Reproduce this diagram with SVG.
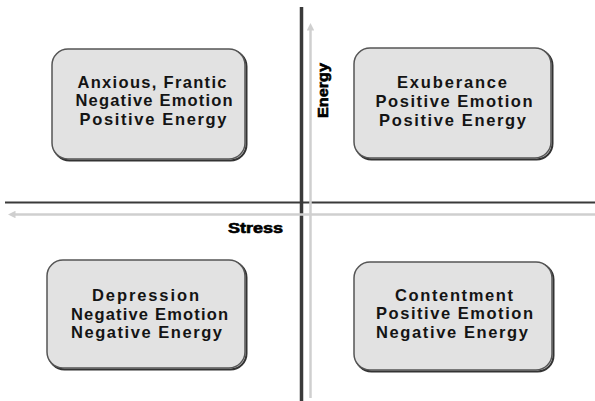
<svg xmlns="http://www.w3.org/2000/svg" width="595" height="401" viewBox="0 0 595 401">
<defs>
<style>
.box{fill:#e2e2e2;stroke:#555;stroke-width:1.5}
.shadow{fill:none;stroke:#333;stroke-width:2}
.lbl{font-family:"Liberation Sans",Arial,sans-serif;font-size:16.5px;font-weight:bold;fill:#141414;text-anchor:middle}
.axis{font-family:"Liberation Sans",Arial,sans-serif;font-size:14px;font-weight:900;fill:#000;text-anchor:middle;stroke:#000;stroke-width:0.6}
.dark{stroke:#3a3a3a;fill:none}
.light{stroke:#cfcfcf;fill:none;stroke-width:2.5}
</style>
<marker id="ah" viewBox="0 0 10 10" refX="2" refY="5" markerWidth="3" markerHeight="3" orient="auto-start-reverse">
<path d="M0,0 L10,5 L0,10 z" fill="#cfcfcf"/>
</marker>
</defs>
<rect width="595" height="401" fill="#fff"/>
<g id="connectors">
<line class="dark" x1="301.5" y1="7" x2="301.5" y2="401" stroke-width="3.5"/>
<line class="dark" x1="5" y1="202.5" x2="595" y2="202.5" stroke-width="2"/>
<line class="light" x1="310.5" y1="398" x2="310.5" y2="29" marker-end="url(#ah)"/>
<line class="light" x1="595" y1="214.5" x2="14" y2="214.5" marker-end="url(#ah)"/>
</g>
<g id="axis-labels">
<text class="axis" x="255.5" y="233" textLength="55" lengthAdjust="spacingAndGlyphs">Stress</text>
<text class="axis" transform="translate(327.5,90.5) rotate(-90)" textLength="55" lengthAdjust="spacingAndGlyphs">Energy</text>
</g>
<g id="node-anxious">
<rect class="shadow" x="53.5" y="50.5" width="193" height="110" rx="16"/>
<rect class="box" x="52" y="49" width="193" height="110" rx="16"/>
<text class="lbl" x="152" y="87.5" textLength="149" lengthAdjust="spacing">Anxious, Frantic</text>
<text class="lbl" x="154" y="106" textLength="157" lengthAdjust="spacing">Negative Emotion</text>
<text class="lbl" x="153" y="124.5" textLength="147" lengthAdjust="spacing">Positive Energy</text>
</g>
<g id="node-exuberance">
<rect class="shadow" x="355.5" y="49.5" width="197" height="110" rx="16"/>
<rect class="box" x="354" y="48" width="197" height="110" rx="16"/>
<text class="lbl" x="452" y="88" textLength="110" lengthAdjust="spacing">Exuberance</text>
<text class="lbl" x="454" y="107" textLength="157" lengthAdjust="spacing">Positive Emotion</text>
<text class="lbl" x="452.5" y="125.5" textLength="147" lengthAdjust="spacing">Positive Energy</text>
</g>
<g id="node-depression">
<rect class="shadow" x="48.5" y="261.5" width="198" height="108" rx="16"/>
<rect class="box" x="47" y="260" width="198" height="108" rx="16"/>
<text class="lbl" x="145.5" y="301" textLength="107" lengthAdjust="spacing">Depression</text>
<text class="lbl" x="149.5" y="319.5" textLength="157" lengthAdjust="spacing">Negative Emotion</text>
<text class="lbl" x="146.5" y="338" textLength="151" lengthAdjust="spacing">Negative Energy</text>
</g>
<g id="node-contentment">
<rect class="shadow" x="355.5" y="263.5" width="198" height="108" rx="16"/>
<rect class="box" x="354" y="262" width="198" height="108" rx="16"/>
<text class="lbl" x="454" y="300.5" textLength="118" lengthAdjust="spacing">Contentment</text>
<text class="lbl" x="454.5" y="319" textLength="157" lengthAdjust="spacing">Positive Emotion</text>
<text class="lbl" x="452" y="338" textLength="152" lengthAdjust="spacing">Negative Energy</text>
</g>
</svg>
